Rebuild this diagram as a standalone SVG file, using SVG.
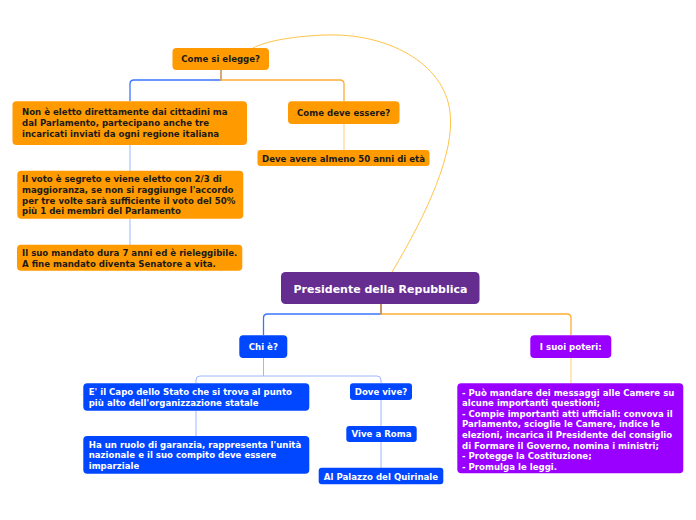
<svg xmlns="http://www.w3.org/2000/svg" width="696" height="520" viewBox="0 0 696 520">
<style>
text{font-family:"DejaVu Sans","Verdana",sans-serif;font-weight:bold;font-size:8.6px}
.dk{fill:#1a1a1a}
.wt{fill:#ffffff}
.c{text-anchor:middle}
.or{fill:#ff9a00}
.bl{fill:#0047ff}
.pu{fill:#9a00ff}
.ce{fill:#662d91}
.lb{fill:none;stroke:#3d74ff;stroke-width:1.3}
.lo{fill:none;stroke:#ffad33;stroke-width:1.3}
.lbl{fill:none;stroke:#9db7ff;stroke-width:1}
.lol{fill:none;stroke:#ffcc70;stroke-width:1}
.cur{fill:none;stroke:#ffc448;stroke-width:1}
</style>
<rect width="696" height="520" fill="#ffffff"/>
<g id="connectors">
<path class="cur" d="M392,272 C428,212 455,152 450,112 C444,62 386,33 326,35 C294,36 266,41 253,48"/>
<path class="lb" d="M221,70 V80 H134 Q130,80 130,84 V101"/>
<path class="lo" d="M221,70 V80 H340 Q344,80 344,84 V101"/>
<path class="lol" d="M344,124 V150"/>
<path class="lbl" d="M130,145 V171"/>
<path class="lbl" d="M130,219 V245"/>
<path class="lb" d="M381,304 V314 H267.5 Q263.5,314 263.5,318 V335"/>
<path class="lo" d="M381,304 V314 H567 Q571,314 571,318 V335"/>
<path stroke="#c3955a" stroke-width="1.5" d="M381,304 V314"/>
<path class="lbl" d="M263.5,358 V376 M200,376 H377 Q381,376 381,380 V383 M200,376 Q196,376 196,380 V383"/>
<path class="lbl" d="M196,411 V436"/>
<path class="lbl" d="M381,400 V426"/>
<path class="lbl" d="M381,442 V468"/>
<path class="lol" d="M571,358 V383"/>
</g>
<g id="n-central"><rect class="ce" x="281" y="272" width="198.5" height="32" rx="4.5"/><text class="wt c" x="380.5" y="293.3" style="font-size:11px">Presidente della Repubblica</text></g>
<g id="n-elegge"><rect class="or" x="172.5" y="48" width="96.5" height="22" rx="4"/><text class="dk c" x="220.7" y="62.4">Come si elegge?</text></g>
<g id="n-noneletto"><rect class="or" x="12.5" y="101.3" width="234.5" height="43.7" rx="4"/><text class="dk" x="22" y="115.3">Non è eletto direttamente dai cittadini ma</text><text class="dk" x="22" y="126">dal Parlamento, partecipano anche tre</text><text class="dk" x="22" y="136.7">incaricati inviati da ogni regione italiana</text></g>
<g id="n-comedeve"><rect class="or" x="288" y="101.3" width="111.5" height="22.7" rx="4"/><text class="dk c" x="343.7" y="115.7">Come deve essere?</text></g>
<g id="n-50anni"><rect class="or" x="257.5" y="150" width="172" height="16" rx="3"/><text class="dk c" x="343.5" y="161.8">Deve avere almeno 50 anni di età</text></g>
<g id="n-voto"><rect class="or" x="17.3" y="170.7" width="226" height="48" rx="4"/><text class="dk" x="22" y="182.3">Il voto è segreto e viene eletto con 2/3 di</text><text class="dk" x="22" y="193">maggioranza, se non si raggiunge l'accordo</text><text class="dk" x="22" y="203.6">per tre volte sarà sufficiente il voto del 50%</text><text class="dk" x="22" y="214.2">più 1 dei membri del Parlamento</text></g>
<g id="n-mandato"><rect class="or" x="17" y="244.7" width="225.3" height="26" rx="4"/><text class="dk" x="22" y="256">Il suo mandato dura 7 anni ed è rieleggibile.</text><text class="dk" x="22" y="266.7">A fine mandato diventa Senatore a vita.</text></g>
<g id="n-chie"><rect class="bl" x="239.3" y="335.3" width="48" height="22.7" rx="4"/><text class="wt c" x="263.3" y="350">Chi è?</text></g>
<g id="n-poteri"><rect class="pu" x="530.3" y="335.3" width="81" height="22.7" rx="4"/><text class="wt c" x="570.8" y="350">I suoi poteri:</text></g>
<g id="n-capo"><rect class="bl" x="83.3" y="383.3" width="226" height="27.4" rx="4"/><text class="wt" x="88.7" y="395">E' il Capo dello Stato che si trova al punto</text><text class="wt" x="88.7" y="405.7">più alto dell'organizzazione statale</text></g>
<g id="n-garanzia"><rect class="bl" x="83.3" y="436" width="226" height="37.7" rx="4"/><text class="wt" x="88.7" y="447.7">Ha un ruolo di garanzia, rappresenta l'unità</text><text class="wt" x="88.7" y="458.3">nazionale e il suo compito deve essere</text><text class="wt" x="88.7" y="469">imparziale</text></g>
<g id="n-dove"><rect class="bl" x="350" y="383.3" width="62" height="16.7" rx="3"/><text class="wt c" x="381" y="395.3">Dove vive?</text></g>
<g id="n-roma"><rect class="bl" x="346.3" y="426" width="70.4" height="16" rx="3"/><text class="wt c" x="381.5" y="437">Vive a Roma</text></g>
<g id="n-quirinale"><rect class="bl" x="318.7" y="467.7" width="124.6" height="16.6" rx="3"/><text class="wt c" x="381" y="479.8">Al Palazzo del Quirinale</text></g>
<g id="n-elenco"><rect class="pu" x="457.3" y="383.3" width="226" height="90" rx="4"/><text class="wt" x="462" y="395.6">- Può mandare dei messaggi alle Camere su</text><text class="wt" x="462" y="406.2">alcune importanti questioni;</text><text class="wt" x="462" y="416.8">- Compie importanti atti ufficiali: convova il</text><text class="wt" x="462" y="427.4">Parlamento, scioglie le Camere, indice le</text><text class="wt" x="462" y="438">elezioni, incarica il Presidente del consiglio</text><text class="wt" x="462" y="448.6">di Formare il Governo, nomina i ministri;</text><text class="wt" x="462" y="459.2">- Protegge la Costituzione;</text><text class="wt" x="462" y="469.8">- Promulga le leggi.</text></g>
</svg>
